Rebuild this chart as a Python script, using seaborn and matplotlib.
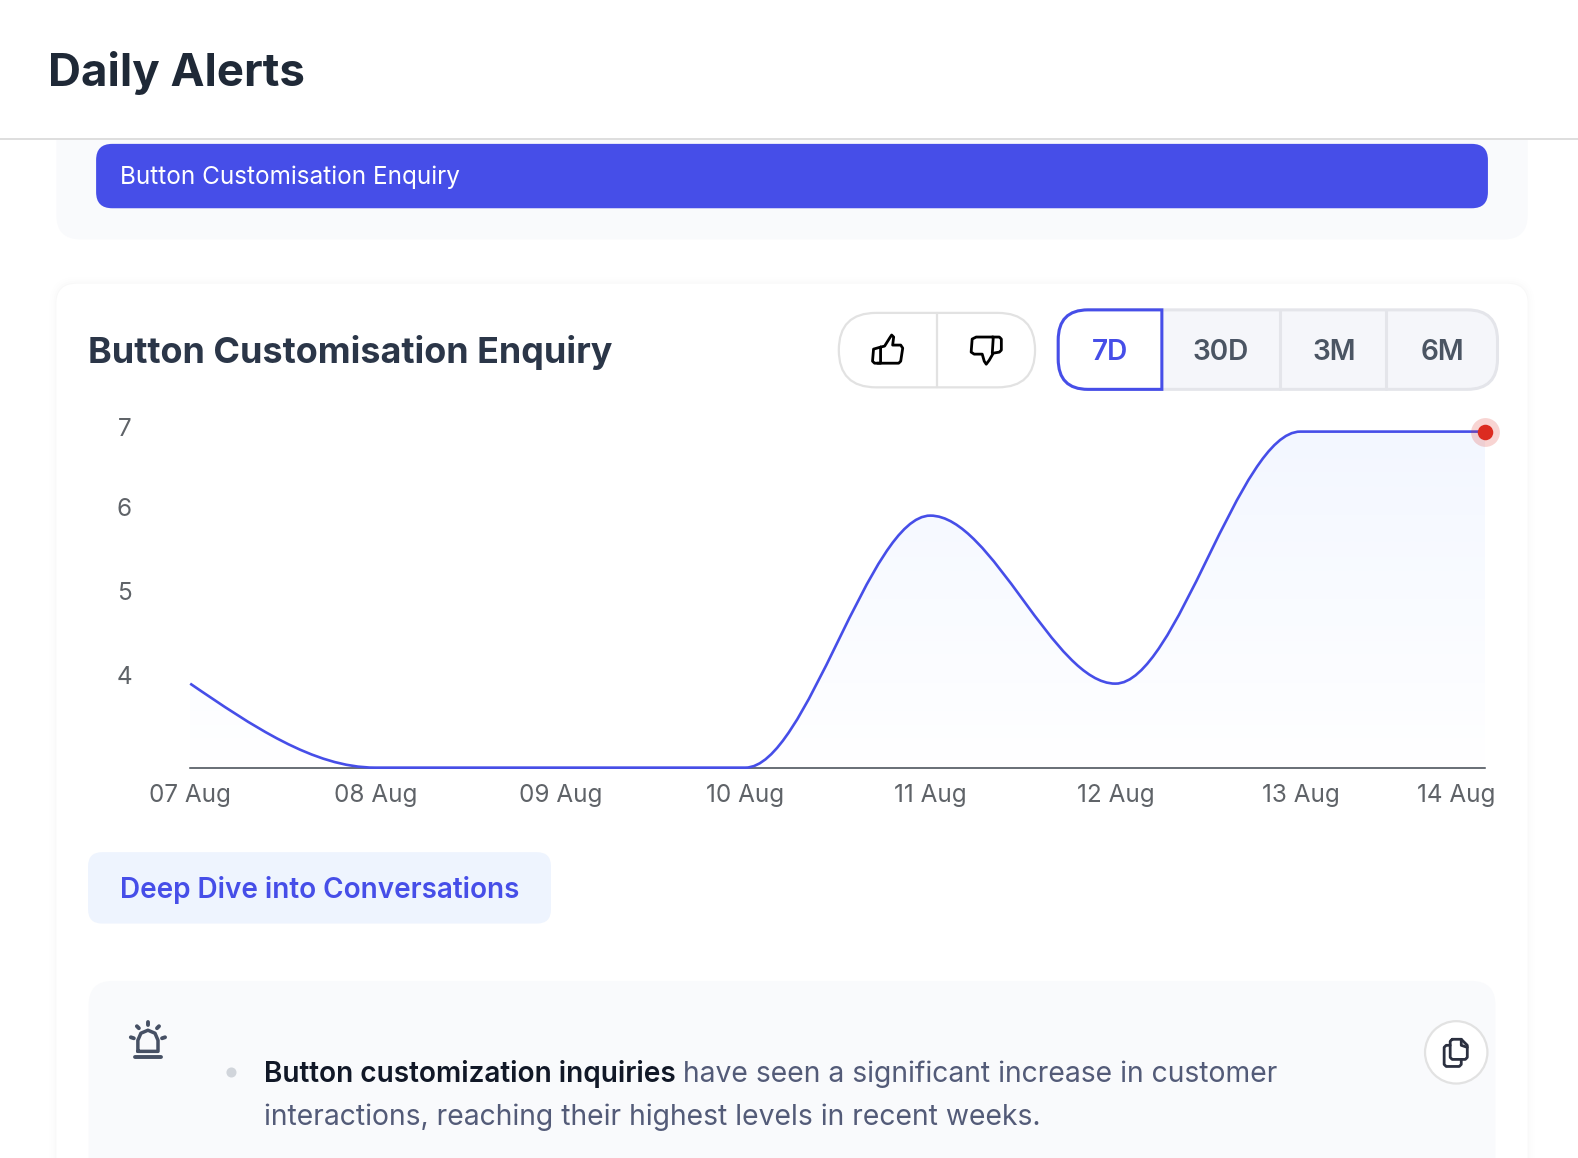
import numpy as np
import pandas as pd
import seaborn as sns
import matplotlib
matplotlib.use('Agg')
import matplotlib.pyplot as plt
from matplotlib.colors import LinearSegmentedColormap
from matplotlib.patches import Circle, FancyBboxPatch, PathPatch, Rectangle
from matplotlib.path import Path
from matplotlib.transforms import ScaledTranslation

# --- DATA ---
DAYS = ['07 Aug', '08 Aug', '09 Aug', '10 Aug', '11 Aug', '12 Aug', '13 Aug', '14 Aug']
ALERTS = [4, 3, 3, 3, 6, 4, 7, 7]
Y_TICKS = [4, 5, 6, 7]
RANGES = ['7D', '30D', '3M', '6M']

PAGE_TITLE = 'Daily Alerts'
TOPIC = 'Button Customisation Enquiry'
BUTTON_TEXT = 'Deep Dive into Conversations'
BOLD_TEXT = 'Button customization inquiries'
BODY_LINE_1 = 'have seen a significant increase in customer'
BODY_LINE_2 = 'interactions, reaching their highest levels in recent weeks.'

# --- COLOURS ---
BLUE = '#464EE8'
PANEL = '#F9FAFC'
BORDER = '#E2E2E2'
SLATE = '#4B5563'
PX = 0.72  # font size in points for one pixel at dpi 100

sns.set_theme(style='white')
plt.rcParams['font.family'] = ['Inter', 'DejaVu Sans']


def rounded(ax, x0, y0, x1, y1, r, **kw):
    box = FancyBboxPatch((x0, y0), x1 - x0, y1 - y0,
                         boxstyle=f'round,pad=0,rounding_size={r}', **kw)
    ax.add_patch(box)
    return box


def stroke(ax, points, color, lw=2.0):
    xs, ys = zip(*points)
    ax.plot(xs, ys, color=color, lw=lw, solid_capstyle='round', solid_joinstyle='round')


def monotone_path(y):
    """Monotone cubic curve through y at x = 0, 1, 2 ... as bezier segments."""
    slopes = np.diff(y)
    tang = np.zeros(len(y))
    for i in range(1, len(y) - 1):
        if slopes[i - 1] * slopes[i] > 0:
            tang[i] = 2 * slopes[i - 1] * slopes[i] / (slopes[i - 1] + slopes[i])
    tang[0] = (3 * slopes[0] - tang[1]) / 2
    tang[-1] = (3 * slopes[-1] - tang[-2]) / 2
    verts = [(0, y[0])]
    codes = [Path.MOVETO]
    for i in range(len(y) - 1):
        verts += [(i + 1 / 3, y[i] + tang[i] / 3),
                  (i + 2 / 3, y[i + 1] - tang[i + 1] / 3),
                  (i + 1, y[i + 1])]
        codes += [Path.CURVE4] * 3
    return verts, codes


fig = plt.figure(figsize=(15.78, 11.58), dpi=100, facecolor='white')

# Page furniture is laid out on a full-figure axes in pixel-like coordinates
ui = fig.add_axes([0, 0, 1, 1], zorder=0)
ui.set_xlim(0, 1568)
ui.set_ylim(1151, 0)
ui.axis('off')

# 1. Top panel, clipped by the white header
rounded(ui, 56, 90, 1518, 238, 24, fc=PANEL, ec='none')
ui.add_patch(Rectangle((0, 0), 1568, 138, fc='white', ec='none'))
ui.plot([0, 1568], [138, 138], color='#DEDEDE', lw=1.4)
ui.text(48, 72.5, PAGE_TITLE, fontsize=45.6 * PX, fontweight='bold', color='#1F2937', va='center')
rounded(ui, 95.5, 143, 1478.5, 207, 16, fc=BLUE, ec='none')
ui.text(119, 176.5, TOPIC, fontsize=24.3 * PX, color='white', va='center')

# 2. Main card with a soft shadow
for grow, alpha in [(7, 0.003), (5, 0.004), (3, 0.006), (1, 0.01)]:
    rounded(ui, 56 - grow, 282 - grow, 1518 + grow, 1300, 20 + grow, fc='black', ec='none', alpha=alpha)
rounded(ui, 56, 282, 1518, 1300, 20, fc='white', ec='none')
ui.text(87.5, 350.5, TOPIC, fontsize=35.95 * PX, fontweight='bold', color='#2B3648', va='center')

# 3. Feedback pill with thumb icons
rounded(ui, 833.5, 311, 1028.5, 385, 37, fc='white', ec=BORDER, lw=1.6)
ui.plot([931, 931], [311, 385], color=BORDER, lw=1.6)
thumb_up = [(875, 345), (879, 344), (884, 336), (886, 333), (888, 335), (887, 343),
            (895, 343), (897, 346), (895, 359), (893, 361), (872, 361)]
stroke(ui, thumb_up, 'black')
stroke(ui, [(875, 345), (868, 347), (867, 359), (869, 361), (875, 361), (875, 345)], 'black')
thumb_down = [(986, 335), (970, 335), (966, 337), (965, 350), (968, 352), (976, 352),
              (978, 359), (980, 362), (983, 358), (987, 351), (993, 350), (995, 348),
              (995, 337), (993, 335), (986, 335)]
stroke(ui, thumb_down, 'black')
stroke(ui, [(987, 335), (986, 351)], 'black')

# 4. Range selector
rounded(ui, 1051.5, 308, 1488, 387, 30, fc='#F5F6FA', ec='#E4E5EA', lw=2.2)
for x in [1271.5, 1377.5]:
    ui.plot([x, x], [308, 387], color='#E4E5EA', lw=2.2)
seg = [(1154.5, 308), (1081, 308), (1051.5, 308), (1051.5, 338), (1051.5, 357), (1051.5, 387),
       (1081, 387), (1154.5, 387), (1154.5, 308)]
seg_codes = [Path.MOVETO, Path.LINETO, Path.CURVE3, Path.CURVE3, Path.LINETO, Path.CURVE3,
             Path.CURVE3, Path.LINETO, Path.CLOSEPOLY]
ui.add_patch(PathPatch(Path(seg, seg_codes), fc='white', ec=BLUE, lw=2.2))
for label, x in zip(RANGES, [1103, 1213, 1326, 1433]):
    ui.text(x, 350.5, label, fontsize=28 * PX, fontweight='semibold', ha='center', va='center',
            color=BLUE if label == '7D' else SLATE)

# 5. Button and insight panel
rounded(ui, 87.5, 847, 547.5, 918, 14, fc='#EEF4FE', ec='none')
ui.text(119, 885, BUTTON_TEXT, fontsize=27.9 * PX, fontweight='semibold', color=BLUE, va='center')
rounded(ui, 88, 975, 1486, 1300, 24, fc=PANEL, ec='none')
ui.add_patch(Circle((230, 1066), 5, fc='#D1D5DB', ec='none'))
ui.text(262, 1068, BOLD_TEXT, fontsize=28 * PX, fontweight='semibold', color='#111827', va='center')
ui.text(679, 1068, BODY_LINE_1, fontsize=28.3 * PX, color='#535B78', va='center')
ui.text(262, 1110, BODY_LINE_2, fontsize=28.3 * PX, color='#535B78', va='center')

# alarm icon
ALARM = '#465064'
dome = [(137, 1045), (137, 1034), (140, 1027), (147, 1024), (154, 1027), (157, 1034), (157, 1045), (137, 1045)]
stroke(ui, dome, ALARM, 2.5)
stroke(ui, [(134, 1051), (160, 1051)], ALARM, 2.8)
for a, b in [((147, 1016), (147, 1019)), ((136, 1020), (138, 1022)), ((158, 1020), (156, 1022)),
             ((130, 1031), (133, 1032)), ((164, 1031), (161, 1032))]:
    stroke(ui, [a, b], ALARM, 2.8)

# copy icon
ui.add_patch(Circle((1447, 1046), 31, fc='white', ec=BORDER, lw=1.6))
INK = '#2B3040'
stroke(ui, [(1441, 1039), (1437, 1039), (1435, 1041), (1435, 1058), (1437, 1060), (1450, 1060), (1452, 1058), (1452, 1053)], INK)
stroke(ui, [(1443, 1033), (1452, 1033), (1458, 1039), (1458, 1051), (1456, 1053), (1443, 1053), (1441, 1051), (1441, 1035), (1443, 1033)], INK)
stroke(ui, [(1452, 1033), (1452, 1039), (1458, 1041)], INK)

# 6. The chart itself
W, H = 1568, 1151
left, right, top, bottom = 189, 1476, 429, 763
ax = fig.add_axes([left / W, 1 - bottom / H, (right - left) / W, (bottom - top) / H],
                  zorder=2, facecolor='none')

alerts = pd.DataFrame({'day': DAYS, 'alerts': ALERTS})
# The line here only sets up the scales, the curve is drawn as beziers below
sns.lineplot(data=alerts, x='day', y='alerts', ax=ax, linewidth=0, color=BLUE)
ax.set_xlim(0, len(DAYS) - 1)
ax.set_ylim(3, 7)

verts, codes = monotone_path(np.array(ALERTS, dtype=float))
curve = Path(verts, codes)
area = Path(verts + [(len(DAYS) - 1, 3), (0, 3), (0, ALERTS[0])],
            codes + [Path.LINETO, Path.LINETO, Path.CLOSEPOLY])
fade = LinearSegmentedColormap.from_list('fade', ['#FFFFFF', '#F3F7FF'])
# two rows centred on y = 7 and y = 3, so the fade spans the full height
img = ax.imshow([[1.0], [0.0]], extent=(0, len(DAYS) - 1, 1, 9), aspect='auto', cmap=fade,
                vmin=0, vmax=1, interpolation='bilinear', zorder=1)
img.set_clip_path(PathPatch(area, transform=ax.transData))
ax.set_xlim(0, len(DAYS) - 1)
ax.set_ylim(3, 7)
ax.add_patch(PathPatch(curve, fc='none', ec=BLUE, lw=1.9, zorder=3, clip_on=False))

last = alerts.tail(1)
halo = sns.scatterplot(data=last, x='day', y='alerts', ax=ax, s=430, color='#DC2B20', alpha=0.2,
                       linewidth=0, zorder=4, clip_on=False).collections[-1]
halo.set_clip_path(Rectangle((1300, 400), 187, 60, transform=ui.transData))
sns.scatterplot(data=last, x='day', y='alerts', ax=ax, s=125, color='#DC2B20',
                linewidth=0, zorder=5, clip_on=False)

for side in ['top', 'right', 'left']:
    ax.spines[side].set_visible(False)
ax.spines['bottom'].set_color('#3F4650')
ax.spines['bottom'].set_linewidth(1.1)

ax.set_xlabel('')
ax.set_ylabel('')
ax.set_xticks(range(len(DAYS)), DAYS)
ax.set_yticks(Y_TICKS, [str(v) for v in Y_TICKS])
ax.tick_params(axis='x', length=0, pad=12, labelsize=24.3 * PX, labelcolor='#5F6368')
ax.tick_params(axis='y', length=0, pad=42, labelsize=24.3 * PX, labelcolor='#5F6368')

# the labels sit slightly above their gridline, and the last date is pulled inside
for lab, val in zip(ax.get_yticklabels(), Y_TICKS):
    dy = 5 if val == 7 else 9
    lab.set_transform(lab.get_transform() + ScaledTranslation(0, dy / 100, fig.dpi_scale_trans))
end = ax.get_xticklabels()[-1]
end.set_transform(end.get_transform() + ScaledTranslation(-29 / 100, 0, fig.dpi_scale_trans))

fig.savefig('out.png', dpi=100)
